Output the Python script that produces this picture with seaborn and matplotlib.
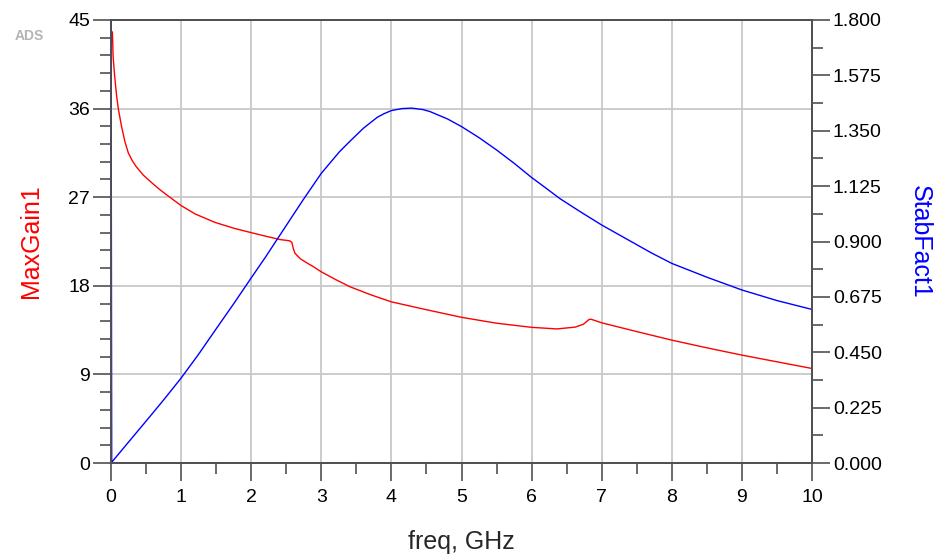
import numpy as np
import pandas as pd
import matplotlib
matplotlib.use("Agg")
import matplotlib.pyplot as plt
from matplotlib.ticker import MultipleLocator, FormatStrFormatter
import seaborn as sns

# ---- data ----
freq_gain = [0.02, 0.03, 0.05, 0.067, 0.085, 0.104, 0.15, 0.2, 0.247, 0.3, 0.36, 0.46,
             0.6, 0.7, 0.82, 1.0, 1.2, 1.48, 1.75, 2.0, 2.2,
             2.41, 2.55, 2.58, 2.6, 2.625, 2.70, 2.8, 2.89, 3.0, 3.2, 3.41, 3.7, 4.0,
             4.48, 5.0, 5.5, 6.0, 6.36, 6.62, 6.74, 6.82, 6.85, 7.0, 7.5, 8.0, 8.5,
             9.0, 9.5, 10.0]
max_gain = [43.8, 41.3, 39.5, 38.2, 37.0, 36.0, 34.2, 32.6, 31.5, 30.75, 30.1, 29.25,
            28.35, 27.75, 27.1, 26.15, 25.3, 24.45, 23.85, 23.4, 23.05,
            22.7, 22.57, 22.4, 21.8, 21.3, 20.75, 20.3, 19.93, 19.42, 18.65, 17.9, 17.1, 16.37,
            15.6, 14.8, 14.2, 13.78, 13.62, 13.8, 14.1, 14.58, 14.6, 14.24, 13.35, 12.48, 11.7,
            10.96, 10.28, 9.6]

freq_stab = [0.0, 0.01, 0.25, 0.5, 0.75, 1.0, 1.25, 1.5, 1.75, 2.0, 2.2, 2.41, 2.74,
             3.0, 3.26, 3.4, 3.6, 3.8, 3.9, 4.0, 4.15, 4.29, 4.45, 4.55, 4.8, 5.0, 5.25,
             5.5, 5.75, 6.0, 6.2, 6.4, 6.7, 7.0, 7.4, 7.7, 8.0, 8.5, 9.0, 9.5, 10.0]
stab_fact = [2.0, 0.003, 0.085, 0.17, 0.256, 0.345, 0.442, 0.545, 0.647, 0.752, 0.835,
             0.926, 1.069, 1.177, 1.265, 1.305, 1.36, 1.405, 1.42, 1.432, 1.44, 1.442,
             1.436, 1.428, 1.398, 1.367, 1.322, 1.272, 1.218, 1.16, 1.118, 1.075, 1.02,
             0.967, 0.903, 0.855, 0.811, 0.755, 0.703, 0.66, 0.624]

left_ticks = [0, 9, 18, 27, 36, 45]
right_ticks = [0.0, 0.225, 0.45, 0.675, 0.9, 1.125, 1.35, 1.575, 1.8]
x_ticks = list(range(0, 11))

sns.set_style("white")
plt.rcParams['font.family'] = ['Liberation Sans', 'DejaVu Sans']

df_g = pd.DataFrame({"freq": freq_gain, "gain": max_gain})
df_s = pd.DataFrame({"freq": freq_stab, "stab": stab_fact})

fig = plt.figure(figsize=(9.38, 5.58), dpi=100)
ax = fig.add_axes([111/938, 1-463/558, (812-111)/938, (463-20)/558])
ax2 = ax.twinx()

spine_c = '#505050'
sns.lineplot(data=df_g, x="freq", y="gain", ax=ax, color='#ff0000', lw=1.0,
             sort=False, legend=False, estimator=None)
sns.lineplot(data=df_s, x="freq", y="stab", ax=ax2, color='#0000ff', lw=1.0,
             sort=False, legend=False, estimator=None)

ax.set_xlim(0, 10)
ax.set_ylim(0, 45)
ax2.set_ylim(0, 1.8)

ax.set_xticks(x_ticks)
ax.xaxis.set_minor_locator(MultipleLocator(0.5))
ax.set_yticks(left_ticks)
ax.yaxis.set_minor_locator(MultipleLocator(1.8))
ax2.set_yticks(right_ticks)
ax2.yaxis.set_minor_locator(MultipleLocator(0.1125))
ax2.yaxis.set_major_formatter(FormatStrFormatter('%.3f'))

ax.grid(True, which='major', color='#c8c8c8', lw=1.3)
ax.set_axisbelow(True)
ax2.grid(False)

for a in (ax, ax2):
    for s in a.spines.values():
        s.set_color(spine_c)
        s.set_linewidth(1.3)
        s.set_visible(True)

ax.tick_params(axis='both', which='major', direction='out', length=13, width=1.2,
               color=spine_c, labelsize=14, labelcolor='black', pad=2)
ax.tick_params(axis='both', which='minor', direction='out', length=8, width=1.2,
               color=spine_c)
ax.tick_params(axis='x', which='major', pad=6)
ax.tick_params(axis='y', which='both', left=True, right=False)
ax.tick_params(axis='x', which='both', bottom=True, top=False)
ax2.tick_params(axis='y', which='major', direction='out', length=13, width=1.2,
                color=spine_c, labelsize=14, labelcolor='black', pad=2, right=True)
ax2.tick_params(axis='y', which='minor', direction='out', length=8, width=1.2,
                color=spine_c, right=True)

ax.set_xlabel("freq, GHz", fontsize=18, labelpad=17)
ax.set_ylabel("MaxGain1", fontsize=18, color='#ff0000', labelpad=18)
ax2.set_ylabel("StabFact1", fontsize=18, color='#0000ff', rotation=-90, labelpad=36)

fig.text(15/938, 1-36/558, "ADS", fontsize=10, color='#b4b4b4', fontweight='bold',
         va='center', ha='left')

fig.savefig("out.png", dpi=100)
